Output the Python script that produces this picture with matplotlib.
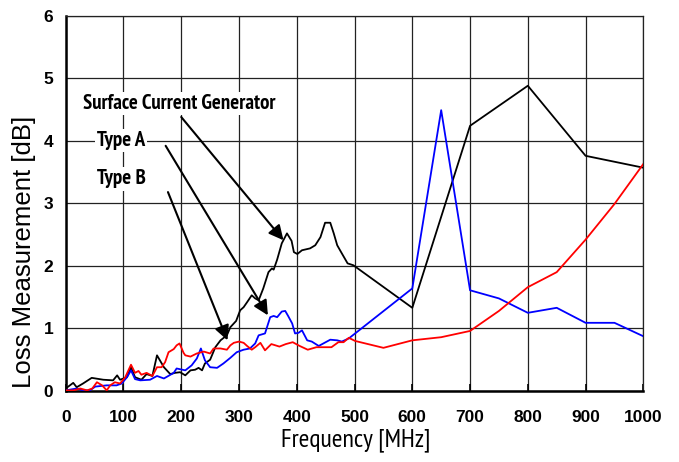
import numpy as np
import matplotlib
matplotlib.use("Agg")
import matplotlib.pyplot as plt

# Surface Current Generator (black)
f_scg = [0, 13, 19, 30, 45, 65, 82, 89, 94, 106,
         113, 120, 131, 140, 150, 158, 170, 181, 189, 198,
         207, 216, 224, 230, 236, 241, 250, 259, 268, 279,
         285, 295, 302, 308, 314, 322, 328, 334, 342, 351,
         357, 360, 366, 374, 383, 391, 395, 401, 409, 423,
         432, 441, 449, 458, 464, 470, 478, 488, 498, 600,
         700, 800, 900, 1000]
v_scg = [0.04, 0.13, 0.06, 0.12, 0.21, 0.18, 0.17, 0.25, 0.18, 0.22,
         0.38, 0.22, 0.18, 0.27, 0.24, 0.57, 0.38, 0.27, 0.29, 0.30,
         0.25, 0.33, 0.34, 0.37, 0.33, 0.44, 0.50, 0.70, 0.81, 0.89,
         1.02, 1.12, 1.29, 1.34, 1.42, 1.53, 1.48, 1.45, 1.64, 1.90,
         1.96, 1.94, 2.10, 2.36, 2.52, 2.40, 2.22, 2.19, 2.25, 2.28,
         2.33, 2.46, 2.69, 2.69, 2.52, 2.33, 2.20, 2.04, 2.01, 1.33,
         4.24, 4.88, 3.76, 3.57]

# Type A (blue)
f_a = [0, 19, 30, 42, 51, 71, 88, 97, 106, 113,
       120, 129, 146, 158, 170, 187, 192, 207, 218, 227,
       234, 241, 250, 262, 273, 285, 296, 308, 319, 328,
       334, 345, 354, 360, 366, 374, 380, 385, 392, 397,
       403, 409, 418, 426, 438, 446, 458, 470, 478, 490,
       600, 650, 700, 750, 800, 850, 900, 950, 1000]
v_a = [0.01, 0.04, 0.01, 0.01, 0.07, 0.09, 0.09, 0.12, 0.22, 0.33,
       0.19, 0.17, 0.18, 0.24, 0.20, 0.29, 0.36, 0.33, 0.41, 0.52,
       0.68, 0.49, 0.38, 0.37, 0.44, 0.53, 0.62, 0.66, 0.68, 0.76,
       0.89, 0.92, 1.18, 1.20, 1.18, 1.27, 1.28, 1.20, 1.08, 0.92,
       0.93, 0.97, 0.81, 0.79, 0.72, 0.76, 0.82, 0.81, 0.79, 0.84,
       1.64, 4.49, 1.61, 1.48, 1.25, 1.33, 1.09, 1.09, 0.875]

# Type B (red)
f_b = [0, 14, 25, 37, 46, 54, 63, 71, 77, 85,
       94, 103, 113, 120, 126, 131, 140, 150, 158, 166,
       172, 178, 187, 192, 197, 204, 207, 216, 227, 239,
       250, 256, 268, 279, 285, 291, 300, 308, 314, 322,
       328, 337, 345, 356, 370, 381, 393, 405, 419, 434,
       448, 460, 472, 481, 490, 501, 550, 600, 650, 700,
       750, 800, 850, 900, 950, 1000]
v_b = [0.01, 0.01, 0.04, 0.01, 0.04, 0.14, 0.09, 0.01, 0.09, 0.14,
       0.12, 0.22, 0.42, 0.29, 0.32, 0.26, 0.29, 0.24, 0.38, 0.38,
       0.46, 0.62, 0.67, 0.73, 0.76, 0.61, 0.57, 0.55, 0.60, 0.63,
       0.60, 0.68, 0.68, 0.66, 0.73, 0.77, 0.79, 0.77, 0.72, 0.66,
       0.70, 0.77, 0.65, 0.75, 0.71, 0.75, 0.78, 0.72, 0.66, 0.70,
       0.70, 0.70, 0.78, 0.78, 0.85, 0.80, 0.69, 0.81, 0.86, 0.96,
       1.28, 1.66, 1.90, 2.42, 2.99, 3.63]

x_ticks = list(range(0, 1001, 100))
y_ticks = list(range(0, 7))

# annotation labels: (text, label pos, arrow start, arrow tip)
labels = ["Surface Current Generator", "Type A", "Type B"]
label_pos = [(30, 4.59), (54, 4.0), (54, 3.39)]
arrow_from = [(200, 4.38), (173, 3.92), (177, 3.18)]
arrow_to = [(377, 2.41), (350, 1.21), (280, 0.81)]

narrow = ["PT Sans Narrow", "Liberation Sans"]

fig = plt.figure(figsize=(6.79, 4.62), dpi=100)
ax = fig.add_axes([0.0968, 0.1537, 0.8507, 0.8123])

ax.plot(f_scg, v_scg, color="black", lw=1.3, zorder=3)
ax.plot(f_a, v_a, color="#0000FF", lw=1.3, zorder=3)
ax.plot(f_b, v_b, color="#FF0000", lw=1.3, zorder=4)

ax.set_xlim(0, 1000)
ax.set_ylim(0, 6)
ax.set_xticks(x_ticks)
ax.set_yticks(y_ticks)
ax.grid(True, color="#222222", lw=0.9)
ax.set_axisbelow(True)

for s in ["top", "right"]:
    ax.spines[s].set_linewidth(0.9)
    ax.spines[s].set_color("#222222")
for s in ["left", "bottom"]:
    ax.spines[s].set_linewidth(1.8)

ax.tick_params(axis="x", direction="in", length=5, width=1.2, pad=14)
ax.tick_params(axis="y", direction="in", length=0, pad=9)
for t in ax.get_xticklabels() + ax.get_yticklabels():
    t.set_fontfamily("Liberation Sans")
    t.set_fontweight("bold")
    t.set_fontsize(12.5)

ax.set_xlabel("Frequency [MHz]", family=narrow, fontsize=18.5)
ax.xaxis.set_label_coords(0.502, -0.1)
ax.set_ylabel("Loss Measurement [dB]", family="Liberation Sans", fontsize=18.5)
ax.yaxis.set_label_coords(-0.052, 0.37)

for txt, p, a0, a1 in zip(labels, label_pos, arrow_from, arrow_to):
    ax.text(p[0], p[1], txt, family=narrow, fontweight="bold", fontsize=15,
            ha="left", va="center", zorder=5,
            bbox=dict(facecolor="white", edgecolor="none", pad=1.5))
    ax.annotate("", xy=a1, xytext=a0, zorder=6,
                arrowprops=dict(arrowstyle="-|>", color="black", lw=1.5,
                                mutation_scale=22, shrinkA=0, shrinkB=0))

fig.savefig("out.png", dpi=100)
